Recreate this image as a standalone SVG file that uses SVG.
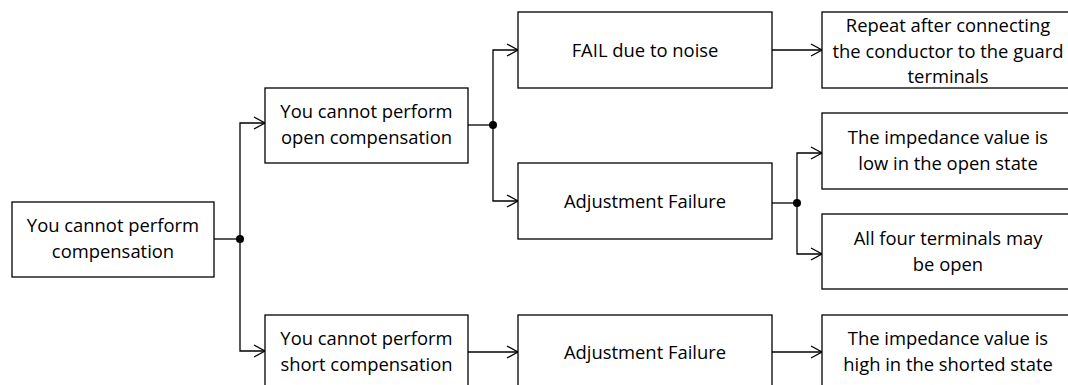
<svg xmlns="http://www.w3.org/2000/svg" width="1068" height="385" viewBox="0 0 1068 385">
  <style>
    .box { fill: #ffffff; stroke: #000000; stroke-width: 1.3; }
    .lbl { font-family: "Open Sans", "Liberation Sans", sans-serif; font-size: 18.4px; fill: #000000; text-anchor: middle; }
    .wire { fill: none; stroke: #000000; stroke-width: 1.3; }
    .arrow { marker-end: url(#open-head); }
  </style>
  <defs>
    <marker id="open-head" markerWidth="14" markerHeight="14" refX="12" refY="7" orient="auto" markerUnits="userSpaceOnUse">
      <path d="M1,1 L12,7 L1,13" fill="none" stroke="#000000" stroke-width="1.3"/>
    </marker>
  </defs>

  <rect width="1068" height="385" fill="#ffffff"/>

  <!-- connectors -->
  <g id="connectors">
    <path class="wire" d="M214,239 H240"/>
    <path class="wire arrow" d="M240,239 V123 H265"/>
    <path class="wire arrow" d="M240,239 V351 H265"/>
    <path class="wire" d="M468,125 H493"/>
    <path class="wire arrow" d="M493,125 V50 H518"/>
    <path class="wire arrow" d="M493,125 V201 H518"/>
    <path class="wire arrow" d="M772,50 H822"/>
    <path class="wire" d="M772,203 H797"/>
    <path class="wire arrow" d="M797,203 V153 H822"/>
    <path class="wire arrow" d="M797,203 V254 H822"/>
    <path class="wire arrow" d="M468,352 H518"/>
    <path class="wire arrow" d="M772,352 H822"/>
    <circle cx="240" cy="239" r="4"/>
    <circle cx="493" cy="125" r="4"/>
    <circle cx="797" cy="203" r="4"/>
  </g>

  <g id="node-compensation">
    <rect class="box" x="12" y="202" width="202" height="75"/>
    <text class="lbl" x="113" y="232">You cannot perform</text>
    <text class="lbl" x="113" y="258">compensation</text>
  </g>

  <g id="node-open-comp">
    <rect class="box" x="265" y="88" width="203" height="75"/>
    <text class="lbl" x="366.5" y="118">You cannot perform</text>
    <text class="lbl" x="366.5" y="144">open compensation</text>
  </g>

  <g id="node-short-comp">
    <rect class="box" x="265" y="315" width="203" height="75"/>
    <text class="lbl" x="366.5" y="345">You cannot perform</text>
    <text class="lbl" x="366.5" y="371">short compensation</text>
  </g>

  <g id="node-fail-noise">
    <rect class="box" x="518" y="12" width="254" height="76"/>
    <text class="lbl" x="645" y="57">FAIL due to noise</text>
  </g>

  <g id="node-adjust-open">
    <rect class="box" x="518" y="163" width="254" height="76"/>
    <text class="lbl" x="645" y="208">Adjustment Failure</text>
  </g>

  <g id="node-adjust-short">
    <rect class="box" x="518" y="315" width="254" height="76"/>
    <text class="lbl" x="645" y="359">Adjustment Failure</text>
  </g>

  <!-- right-hand column runs past the canvas edge -->
  <g id="node-guard">
    <rect class="box" x="822" y="12" width="252" height="76"/>
    <text class="lbl" x="948" y="32">Repeat after connecting</text>
    <text class="lbl" x="948" y="58">the conductor to the guard</text>
    <text class="lbl" x="948" y="83">terminals</text>
  </g>

  <g id="node-low-open">
    <rect class="box" x="822" y="113" width="252" height="76"/>
    <text class="lbl" x="948" y="144">The impedance value is</text>
    <text class="lbl" x="948" y="170">low in the open state</text>
  </g>

  <g id="node-four-open">
    <rect class="box" x="822" y="214" width="252" height="75"/>
    <text class="lbl" x="948" y="245">All four terminals may</text>
    <text class="lbl" x="948" y="271">be open</text>
  </g>

  <g id="node-high-short">
    <rect class="box" x="822" y="315" width="252" height="76"/>
    <text class="lbl" x="948" y="345">The impedance value is</text>
    <text class="lbl" x="948" y="371">high in the shorted state</text>
  </g>
</svg>
